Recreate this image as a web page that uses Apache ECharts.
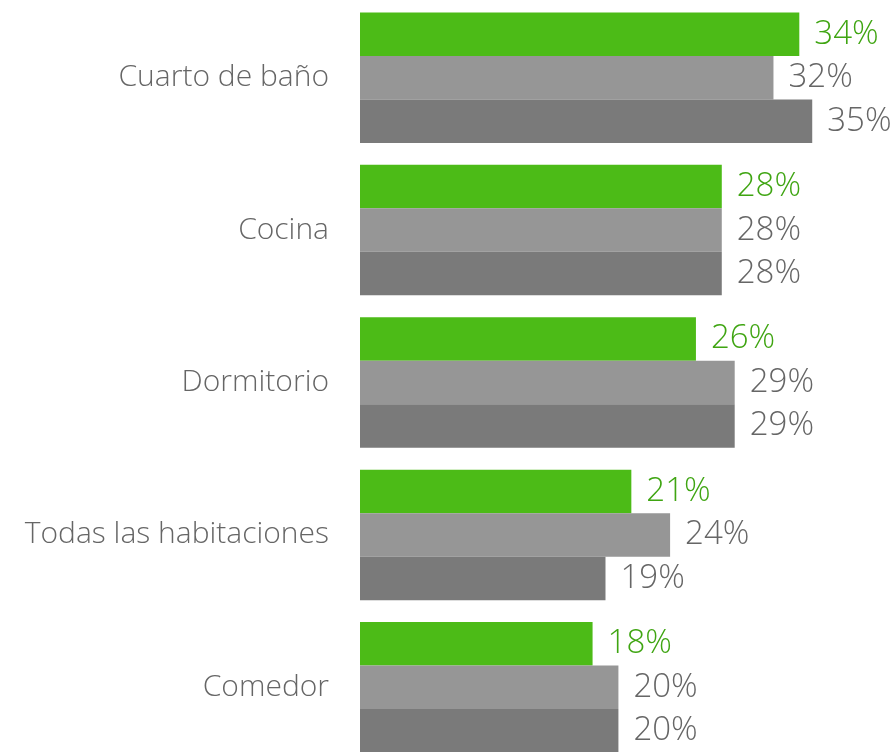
<!DOCTYPE html>
<html>
<head>
<meta charset="utf-8">
<script src="https://cdn.jsdelivr.net/npm/echarts@6/dist/echarts.min.js"></script>
<style>
  html, body { margin: 0; padding: 0; background: #fff; overflow: hidden; }
  #chart { width: 893px; height: 766px; }
</style>
</head>
<body>
<div id="chart"></div>
<script>
    // data
    var categories = ['Cuarto de baño', 'Cocina', 'Dormitorio', 'Todas las habitaciones', 'Comedor'];
    var seriesA = [34, 28, 26, 21, 18];
    var seriesB = [32, 28, 29, 24, 20];
    var seriesC = [35, 28, 29, 19, 20];

    var FONT = '"Open Sans"';

    function makeSeries(name, values, color, labelColor) {
        return {
            name: name,
            type: 'bar',
            data: values,
            barWidth: 43.5,
            barGap: '0%',
            itemStyle: { color: color },
            label: {
                show: true,
                position: 'right',
                distance: 15,
                formatter: '{c}%',
                color: labelColor,
                fontFamily: FONT,
                fontWeight: 300,
                fontSize: 33
            },
            silent: true
        };
    }

    // the last group runs past the bottom edge, so the canvas is a bit taller than the window
    var myChart = echarts.init(document.getElementById('chart'));
    var option = {
        animation: false,
        grid: { left: 360, width: 522, top: 1.5, height: 762 },
        xAxis: {
            type: 'value', min: 0, max: 40.4,
            show: false
        },
        yAxis: {
            type: 'category',
            data: categories,
            inverse: true,
            axisLine: { show: false },
            axisTick: { show: false },
            axisLabel: {
                margin: 31,
                color: '#666666',
                fontFamily: FONT,
                fontWeight: 300,
                fontSize: 30
            }
        },
        series: [
            makeSeries('A', seriesA, '#4cbb17', '#3fa512'),
            makeSeries('B', seriesB, '#969696', '#666666'),
            makeSeries('C', seriesC, '#7a7a7a', '#666666')
        ]
    };
    myChart.setOption(option);
</script>
</body>
</html>
